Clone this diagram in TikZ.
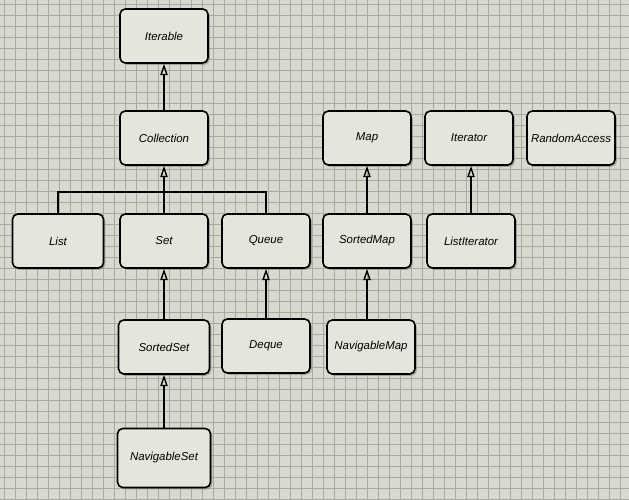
\documentclass[tikz,border=0pt]{standalone}
\usepackage{fontspec}
\setmainfont{Liberation Sans}
\usetikzlibrary{arrows.meta, shapes, positioning, shadows}

\definecolor{paper}{HTML}{D7DACF}
\definecolor{gridline}{HTML}{A7AAA0}
\definecolor{boxfill}{HTML}{E4E5DC}

\tikzset{
  iface/.style={draw, rectangle, rounded corners=3pt, line width=0.9pt, fill=boxfill,
    minimum width=1.76cm, minimum height=1.08cm, inner sep=1pt, text centered,
    font=\fontsize{6.5}{7.8}\selectfont\itshape,
    drop shadow={opacity=0.6, shadow xshift=1pt, shadow yshift=-1pt}},
  extends/.style={-{Triangle[open, length=6.5pt, width=4.2pt]}, line width=0.8pt},
}

\begin{document}
\begin{tikzpicture}
    % paper %
      \useasboundingbox (0,0) rectangle (12.58,-10);
      \fill[paper] (0,0) rectangle (12.58,-10);
      \draw[gridline, line width=0.3pt, step=0.22cm, shift={(0.08,-0.08)}] (-0.08,0.08) grid (12.5,-9.92);

    % nodes %
      \node[iface] (iterable) at (3.28,-0.72) {Iterable};
      \node[iface, below of = iterable, node distance=2.04cm] (collection) {Collection};
      \node[iface, below of = collection, node distance=2.06cm] (set) {Set};
      \node[iface, left of = set, node distance=2.12cm, minimum width=1.82cm] (list) {List};
      \node[iface, right of = set, node distance=2.04cm] (queue) {Queue};
      \node[iface, right of = queue, node distance=2.02cm] (sortedmap) {SortedMap};
      \node[iface, right of = sortedmap, node distance=2.08cm] (listiterator) {ListIterator};
      \node[iface, above of = sortedmap, node distance=2.06cm] (map) {Map};
      \node[iface, right of = map, node distance=2.04cm] (iterator) {Iterator};
      \node[iface, right of = iterator, node distance=2.04cm] (randomaccess) {RandomAccess};
      \node[iface, below of = set, node distance=2.12cm, minimum width=1.82cm] (sortedset) {SortedSet};
      \node[iface, below of = queue, node distance=2.1cm] (deque) {Deque};
      \node[iface, below of = sortedmap, node distance=2.12cm, xshift=0.08cm] (navigablemap) {NavigableMap};
      \node[iface, below of = sortedset, node distance=2.22cm, minimum width=1.86cm, minimum height=1.18cm] (navigableset) {NavigableSet};
      \path (collection.south) -- (set.north) coordinate[pos=0.55] (bus);

      % edges %
      \draw[extends] (collection) -- (iterable);
      \draw[extends] (set) -- (collection);
      \draw[line width=0.8pt] (list.north) |- (bus) -| (queue.north);
      \draw[extends] (sortedset) -- (set);
      \draw[extends] (navigableset) -- (sortedset);
      \draw[extends] (deque) -- (queue);
      \draw[extends] (sortedmap) -- (map);
      \draw[extends] (navigablemap.north -| sortedmap) -- (sortedmap);
      \draw[extends] (listiterator) -- (iterator.south -| listiterator);
\end{tikzpicture}
\end{document}
